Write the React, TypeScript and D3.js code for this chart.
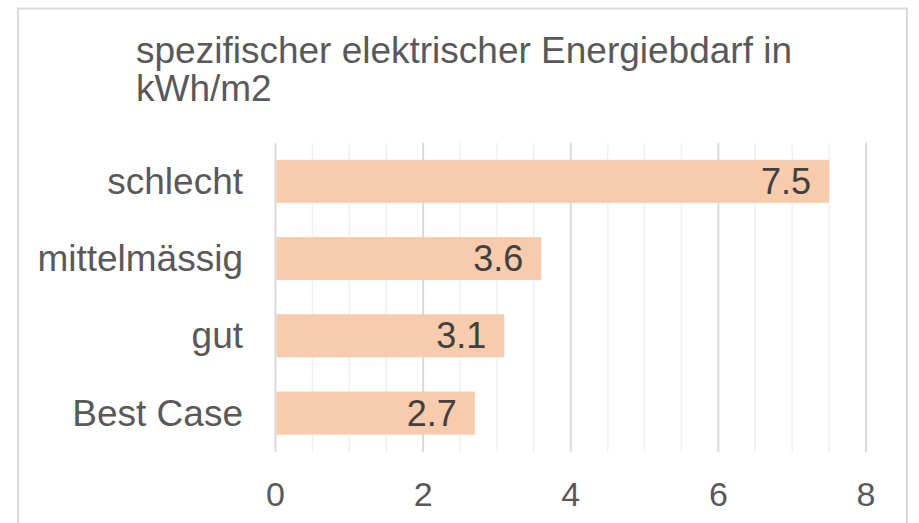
import React from "react";
import * as d3 from "d3";

const categories = ["schlecht", "mittelmässig", "gut", "Best Case"];
const values = [7.5, 3.6, 3.1, 2.7];
const xTicks = [0, 2, 4, 6, 8];
const titleLines = ["spezifischer elektrischer Energiebdarf in", "kWh/m2"];

const W = 919;
const H = 523;
const FONT = "'Liberation Sans', Arial, sans-serif";

export default function App() {
  const left = 275.5;
  const right = 866;
  const top = 142.7;
  const bottom = 451.7;

  const x = d3.scaleLinear().domain([0, 8]).range([left, right]);
  const y = d3
    .scaleBand<string>()
    .domain(categories)
    .range([top, bottom])
    .paddingInner(0.443)
    .paddingOuter(0.2215);

  const minorTicks = d3.range(0, 8.001, 0.5).filter((v) => Math.abs(v % 2) > 1e-6);

  return (
    <svg
      width={W}
      height={H}
      style={{ position: "absolute", left: 0, top: 0, background: "#fff" }}
      fontFamily={FONT}
    >
      {/* chart border (bottom is off-screen) */}
      <path
        d={`M18,${H + 5} L18,8.5 L907,8.5 L907,${H + 5}`}
        fill="none"
        stroke="#d9d9d9"
        strokeWidth={2}
      />

      {/* title */}
      {titleLines.map((t, i) => (
        <text key={t} x={136} y={63 + i * 38} fontSize={37} fill="#595959">
          {t}
        </text>
      ))}

      {/* minor gridlines */}
      {minorTicks.map((v) => (
        <line
          key={"m" + v}
          x1={x(v)}
          x2={x(v)}
          y1={top}
          y2={bottom}
          stroke="#f0f0f0"
          strokeWidth={1.5}
        />
      ))}
      {/* major gridlines */}
      {xTicks.map((v) => (
        <line
          key={"M" + v}
          x1={x(v)}
          x2={x(v)}
          y1={top}
          y2={bottom}
          stroke="#d9d9d9"
          strokeWidth={2}
        />
      ))}

      {/* bars */}
      {categories.map((c, i) => (
        <rect
          key={c}
          x={x(0) + 1}
          y={y(c)}
          width={x(values[i]) - x(0) - 1}
          height={y.bandwidth()}
          fill="#f8cbad"
        />
      ))}

      {/* value labels */}
      {categories.map((c, i) => (
        <text
          key={"v" + c}
          x={x(values[i]) - 18}
          y={(y(c) as number) + y.bandwidth() / 2 + 12.5}
          fontSize={36}
          fill="#404040"
          textAnchor="end"
        >
          {values[i].toFixed(1)}
        </text>
      ))}

      {/* category labels */}
      {categories.map((c) => (
        <text
          key={"c" + c}
          x={243}
          y={(y(c) as number) + y.bandwidth() / 2 + 12.5}
          fontSize={37}
          fill="#595959"
          textAnchor="end"
        >
          {c}
        </text>
      ))}

      {/* x tick labels */}
      {xTicks.map((v) => (
        <text
          key={"t" + v}
          x={x(v)}
          y={505.5}
          fontSize={34}
          fill="#595959"
          textAnchor="middle"
        >
          {v}
        </text>
      ))}
    </svg>
  );
}
